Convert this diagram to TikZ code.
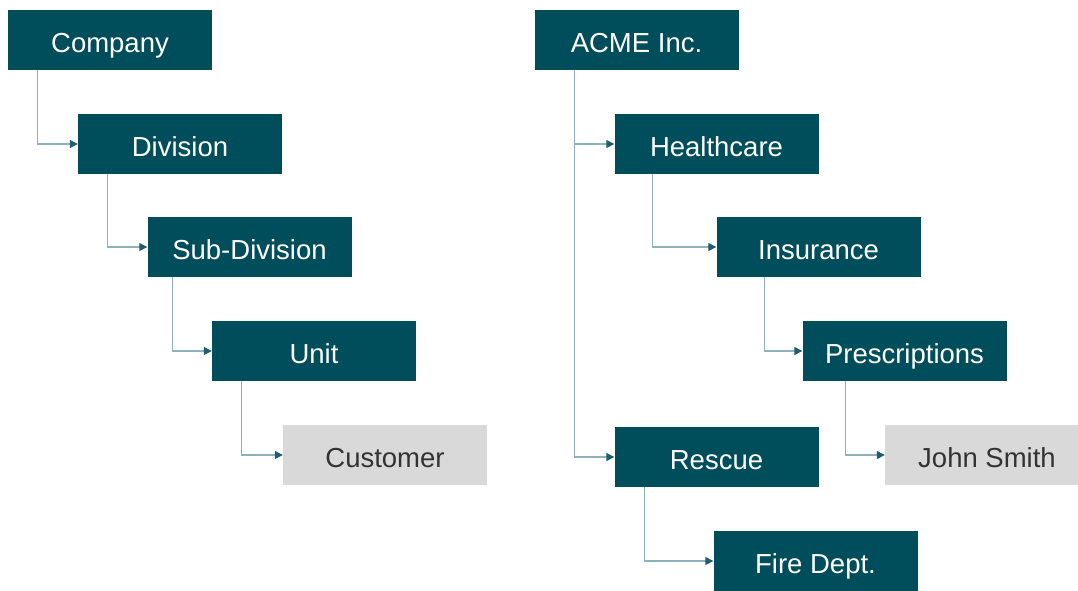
\documentclass[tikz,border=0pt]{standalone}
\usepackage{fontspec}
\setmainfont{Liberation Sans}
\usepackage{tikz}
\usetikzlibrary{arrows.meta, positioning}
\definecolor{darkteal}{HTML}{004D5C}
\definecolor{lineteal}{HTML}{8DB2BB}
\definecolor{tipteal}{HTML}{1F5F6D}
\definecolor{lightgrey}{HTML}{D9D9D9}
\definecolor{textgrey}{HTML}{333333}

\begin{document}
\begin{tikzpicture}[x=1pt, y=-1pt,
    orgbox/.style={fill=darkteal, text=white, minimum width=204pt, minimum height=60pt,
                   inner sep=0pt, text height=24pt, text depth=0pt,
                   font=\fontsize{27.5}{32}\selectfont},
    leafbox/.style={orgbox, fill=lightgrey, text=textgrey},
    link/.style={draw=lineteal, line width=1.3pt,
                 -{Triangle[length=8pt, width=8pt, fill=tipteal, color=tipteal]}}]
    \useasboundingbox (0,0) rectangle (1078,590);
    % Generic hierarchy
    \node[orgbox] (company) at (110,40) {Company};
    \node[orgbox] (division) at (180,144) {Division};
    \node[orgbox] (subdiv) at (249.5,247) {Sub-Division};
    \node[orgbox] (unit) at (314,351) {Unit};
    \node[leafbox] (customer) at (385,455) {Customer};
    % Example hierarchy
    \node[orgbox] (acme) at (636.5,40) {ACME Inc.};
    \node[orgbox] (health) at (716.5,144) {Healthcare};
    \node[orgbox] (insure) at (818.5,247) {Insurance};
    \node[orgbox] (rx) at (904.5,351) {Prescriptions};
    \node[leafbox] (john) at (987,455) {John Smith};
    \node[orgbox] (rescue) at (716.5,457) {Rescue};
    \node[orgbox] (fire) at (815.5,561) {Fire Dept.};
    % Links
    \draw[link] ([xshift=30pt]company.south west) |- (division.west);
    \draw[link] ([xshift=30pt]division.south west) |- (subdiv.west);
    \draw[link] ([xshift=25pt]subdiv.south west) |- (unit.west);
    \draw[link] ([xshift=30pt]unit.south west) |- (customer.west);
    \draw[link] ([xshift=40pt]acme.south west) |- (health.west);
    \draw[link] ([xshift=40pt]acme.south west) |- (rescue.west);
    \draw[link] ([xshift=38pt]health.south west) |- (insure.west);
    \draw[link] ([xshift=48pt]insure.south west) |- (rx.west);
    \draw[link] ([xshift=43pt]rx.south west) |- (john.west);
    \draw[link] ([xshift=30pt]rescue.south west) |- (fire.west);
\end{tikzpicture}
\end{document}
